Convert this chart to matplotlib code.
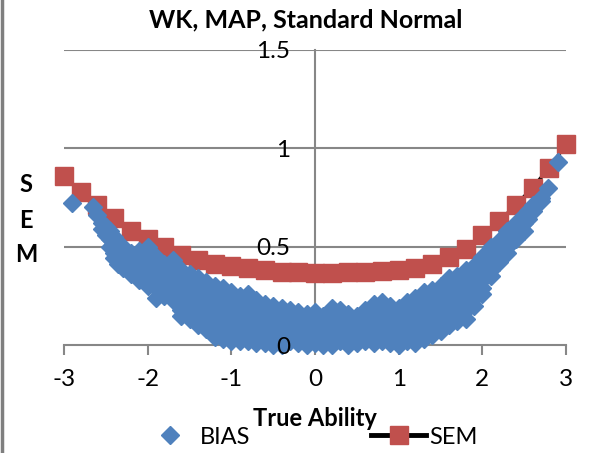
import matplotlib
matplotlib.use("Agg")
import matplotlib.pyplot as plt
from matplotlib.lines import Line2D

plt.rcParams["font.family"] = ["Lato", "DejaVu Sans"]

# SEM of the MAP estimate at each true ability point
sem_theta = [-3.0, -2.8, -2.6, -2.4, -2.2, -2.0, -1.8, -1.6, -1.4, -1.2, -1.0,
             -0.8, -0.6, -0.4, -0.2, 0.0, 0.2, 0.4, 0.6, 0.8, 1.0,
             1.2, 1.4, 1.6, 1.8, 2.0, 2.2, 2.4, 2.6, 2.8, 3.0]
sem_value = [0.86, 0.78, 0.71, 0.645, 0.58, 0.54, 0.50, 0.46, 0.43, 0.41, 0.40,
             0.39, 0.38, 0.37, 0.37, 0.365, 0.365, 0.37, 0.37, 0.375, 0.38,
             0.39, 0.41, 0.45, 0.49, 0.56, 0.63, 0.71, 0.80, 0.90, 1.02]

# absolute bias for each simulee (one line per true ability value)
bias_theta = [
    -2.90,
    -2.65,
    -2.60,
    -2.55, -2.55,
    -2.50, -2.50,
    -2.45, -2.45, -2.45,
    -2.40, -2.40, -2.40, -2.40,
    -2.35, -2.35, -2.35, -2.35,
    -2.30, -2.30, -2.30, -2.30,
    -2.20, -2.20, -2.20, -2.20,
    -2.10, -2.10, -2.10, -2.10, -2.10,
    -2.00, -2.00, -2.00, -2.00, -2.00, -2.00,
    -1.90, -1.90, -1.90, -1.90, -1.90, -1.90,
    -1.80, -1.80, -1.80, -1.80, -1.80,
    -1.70, -1.70, -1.70, -1.70, -1.70, -1.70,
    -1.60, -1.60, -1.60, -1.60, -1.60, -1.60, -1.60,
    -1.50, -1.50, -1.50, -1.50, -1.50, -1.50, -1.50,
    -1.40, -1.40, -1.40, -1.40, -1.40, -1.40, -1.40,
    -1.30, -1.30, -1.30, -1.30, -1.30, -1.30, -1.30,
    -1.20, -1.20, -1.20, -1.20, -1.20, -1.20, -1.20, -1.20,
    -1.10, -1.10, -1.10, -1.10, -1.10, -1.10, -1.10, -1.10,
    -1.00, -1.00, -1.00, -1.00, -1.00, -1.00, -1.00, -1.00,
    -0.90, -0.90, -0.90, -0.90, -0.90, -0.90, -0.90,
    -0.80, -0.80, -0.80, -0.80, -0.80, -0.80, -0.80,
    -0.70, -0.70, -0.70, -0.70, -0.70, -0.70, -0.70,
    -0.60, -0.60, -0.60, -0.60, -0.60, -0.60,
    -0.50, -0.50, -0.50, -0.50, -0.50, -0.50,
    -0.40, -0.40, -0.40, -0.40, -0.40, -0.40,
    -0.30, -0.30, -0.30, -0.30, -0.30,
    -0.20, -0.20, -0.20, -0.20, -0.20,
    -0.10, -0.10, -0.10, -0.10, -0.10,
    0.00, 0.00, 0.00, 0.00, 0.00,
    0.10, 0.10, 0.10, 0.10, 0.10,
    0.20, 0.20, 0.20, 0.20, 0.20, 0.20,
    0.30, 0.30, 0.30, 0.30, 0.30,
    0.40, 0.40, 0.40, 0.40, 0.40,
    0.50, 0.50, 0.50, 0.50, 0.50,
    0.60, 0.60, 0.60, 0.60, 0.60,
    0.70, 0.70, 0.70, 0.70, 0.70, 0.70,
    0.80, 0.80, 0.80, 0.80, 0.80, 0.80,
    0.90, 0.90, 0.90, 0.90, 0.90, 0.90,
    1.00, 1.00, 1.00, 1.00, 1.00, 1.00,
    1.10, 1.10, 1.10, 1.10, 1.10, 1.10,
    1.20, 1.20, 1.20, 1.20, 1.20, 1.20, 1.20,
    1.30, 1.30, 1.30, 1.30, 1.30, 1.30, 1.30,
    1.40, 1.40, 1.40, 1.40, 1.40, 1.40, 1.40,
    1.50, 1.50, 1.50, 1.50, 1.50, 1.50, 1.50,
    1.60, 1.60, 1.60, 1.60, 1.60, 1.60, 1.60,
    1.70, 1.70, 1.70, 1.70, 1.70, 1.70, 1.70,
    1.80, 1.80, 1.80, 1.80, 1.80, 1.80, 1.80,
    1.90, 1.90, 1.90, 1.90, 1.90, 1.90,
    2.00, 2.00, 2.00, 2.00, 2.00, 2.00,
    2.10, 2.10, 2.10, 2.10, 2.10,
    2.20, 2.20, 2.20, 2.20,
    2.30, 2.30, 2.30, 2.30,
    2.40, 2.40, 2.40,
    2.50, 2.50, 2.50,
    2.55, 2.55,
    2.60, 2.60,
    2.70, 2.70,
    2.78,
    2.90,
]
bias_value = [
    0.72,
    0.70,
    0.66,
    0.62, 0.59,
    0.60, 0.56,
    0.58, 0.54, 0.50,
    0.55, 0.51, 0.47, 0.44,
    0.52, 0.48, 0.44, 0.41,
    0.50, 0.46, 0.42, 0.39,
    0.47, 0.43, 0.39, 0.36,
    0.48, 0.44, 0.40, 0.36, 0.33,
    0.50, 0.46, 0.42, 0.38, 0.34, 0.30,
    0.45, 0.41, 0.37, 0.33, 0.29, 0.24,
    0.41, 0.37, 0.33, 0.29, 0.25,
    0.43, 0.39, 0.35, 0.31, 0.27, 0.23,
    0.38, 0.34, 0.30, 0.26, 0.22, 0.18, 0.15,
    0.36, 0.32, 0.28, 0.24, 0.20, 0.16, 0.13,
    0.34, 0.30, 0.26, 0.22, 0.18, 0.14, 0.10,
    0.32, 0.28, 0.24, 0.20, 0.16, 0.12, 0.08,
    0.30, 0.26, 0.22, 0.18, 0.14, 0.10, 0.06, 0.04,
    0.29, 0.25, 0.21, 0.17, 0.13, 0.09, 0.05, 0.03,
    0.27, 0.23, 0.19, 0.15, 0.11, 0.07, 0.03, 0.02,
    0.25, 0.21, 0.17, 0.13, 0.09, 0.05, 0.02,
    0.26, 0.22, 0.18, 0.14, 0.10, 0.06, 0.02,
    0.23, 0.19, 0.15, 0.11, 0.07, 0.03, 0.01,
    0.21, 0.17, 0.13, 0.09, 0.05, 0.01,
    0.20, 0.16, 0.12, 0.08, 0.04, 0.00,
    0.19, 0.15, 0.11, 0.07, 0.03, 0.00,
    0.18, 0.14, 0.10, 0.06, 0.02,
    0.17, 0.13, 0.09, 0.05, 0.01,
    0.16, 0.12, 0.08, 0.04, 0.00,
    0.17, 0.13, 0.09, 0.05, 0.01,
    0.15, 0.11, 0.07, 0.03, 0.00,
    0.19, 0.15, 0.11, 0.07, 0.03, 0.00,
    0.18, 0.14, 0.10, 0.06, 0.02,
    0.16, 0.12, 0.08, 0.04, 0.00,
    0.15, 0.11, 0.07, 0.03, 0.01,
    0.18, 0.14, 0.10, 0.06, 0.02,
    0.21, 0.17, 0.13, 0.09, 0.05, 0.01,
    0.22, 0.18, 0.14, 0.10, 0.06, 0.02,
    0.20, 0.16, 0.12, 0.08, 0.04, 0.01,
    0.19, 0.15, 0.11, 0.07, 0.03, 0.00,
    0.22, 0.18, 0.14, 0.10, 0.06, 0.02,
    0.24, 0.20, 0.16, 0.12, 0.08, 0.04, 0.01,
    0.27, 0.23, 0.19, 0.15, 0.11, 0.07, 0.03,
    0.28, 0.24, 0.20, 0.16, 0.12, 0.08, 0.05,
    0.30, 0.26, 0.22, 0.18, 0.14, 0.10, 0.07,
    0.34, 0.30, 0.26, 0.22, 0.18, 0.14, 0.10,
    0.35, 0.31, 0.27, 0.23, 0.19, 0.15, 0.12,
    0.38, 0.34, 0.30, 0.26, 0.22, 0.18, 0.13,
    0.40, 0.36, 0.32, 0.28, 0.24, 0.20,
    0.45, 0.41, 0.37, 0.33, 0.29, 0.26,
    0.50, 0.46, 0.42, 0.38, 0.35,
    0.53, 0.49, 0.45, 0.42,
    0.58, 0.54, 0.50, 0.47,
    0.62, 0.58, 0.54,
    0.66, 0.62, 0.58,
    0.68, 0.64,
    0.71, 0.68,
    0.75, 0.73,
    0.80,
    0.93,
]

x_ticks = [-3, -2, -1, 0, 1, 2, 3]
y_ticks = [0, 0.5, 1, 1.5]
y_ticklabels = ["0", "0.5", "1", "1.5"]

blue = "#4F81BD"
red = "#C0504D"
grid_gray = "#878787"

fig = plt.figure(figsize=(6.05, 4.53), dpi=100)
ax = fig.add_axes([64 / 605, 1 - 345 / 453, 502 / 605, 295 / 453])

ax.plot(sem_theta, sem_value, color="black", lw=2.5, marker="s", markersize=13,
        markerfacecolor=red, markeredgecolor=red, clip_on=False, zorder=3)
ax.plot(bias_theta, bias_value, ls="none", marker="D", markersize=9.5,
        markerfacecolor=blue, markeredgecolor=blue, clip_on=False, zorder=4)

ax.set_xlim(-3, 3)
ax.set_ylim(0, 1.5)

for y in y_ticks[1:]:
    ax.axhline(y, color=grid_gray, lw=1.5, zorder=1)

for side in ["top", "right"]:
    ax.spines[side].set_visible(False)
ax.spines["left"].set_position(("data", 0))
ax.spines["bottom"].set_position(("data", 0))
for side in ["left", "bottom"]:
    ax.spines[side].set_color(grid_gray)
    ax.spines[side].set_linewidth(1.5)
ax.spines["left"].set_zorder(1)
ax.spines["bottom"].set_zorder(2)

ax.set_xticks(x_ticks)
ax.set_xticklabels([str(t) for t in x_ticks])
ax.tick_params(axis="x", direction="out", length=7, width=1.5, color=grid_gray,
               labelsize=17.5, pad=10)
ax.set_yticks(y_ticks)
ax.set_yticklabels(y_ticklabels)
ax.tick_params(axis="y", length=0, labelsize=17.5, pad=18)
# y labels sit on top of the markers
ax.yaxis.set_zorder(5)

fig.text(306 / 605, 1 - 20 / 453, "WK, MAP, Standard Normal", ha="center", va="center",
         fontsize=18, fontweight="bold")
for label, ypx in zip("SEM", [185, 220, 255]):
    fig.text(26 / 605, 1 - ypx / 453, label, ha="center", va="center",
             fontsize=17, fontweight="bold")
fig.text(315 / 605, 1 - 418 / 453, "True Ability", ha="center", va="center",
         fontsize=17, fontweight="bold")

handles = [
    Line2D([], [], ls="none", marker="D", markersize=9.5, color=blue),
    Line2D([], [], color="black", lw=3.5, marker="s", markersize=13,
           markerfacecolor=red, markeredgecolor=red),
]
fig.legend(handles, ["BIAS", "SEM"], loc="center", ncol=2,
           bbox_to_anchor=(310 / 605, 1 - 437 / 453), frameon=False, fontsize=17,
           handlelength=2.33, handletextpad=0.13, columnspacing=5.1,
           borderpad=0, borderaxespad=0)

fig.add_artist(Line2D([0.003, 0.003], [0, 1], transform=fig.transFigure,
                      color="#7f7f7f", lw=2.5))

fig.savefig("out.png", dpi=100)
